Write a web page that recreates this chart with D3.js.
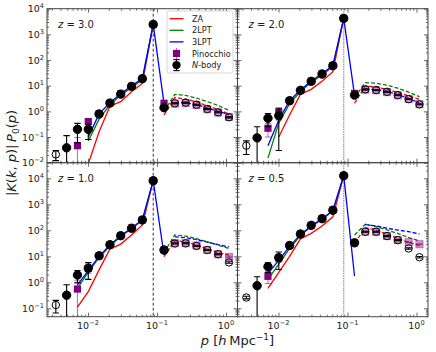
<!DOCTYPE html>
<html>
<head>
<meta charset="utf-8">
<script src="https://cdn.jsdelivr.net/npm/d3@7"></script>
<style>
body { margin: 0; background: #fff; }
svg text { font-family: "DejaVu Sans", sans-serif; fill: #1a1a1a; }
</style>
</head>
<body>
<svg id="fig" width="436" height="352"></svg>
<script>
// p bins (h/Mpc), k is the diagonal bin
const pBins = [0.00342, 0.0049, 0.00704, 0.0101, 0.01449, 0.0208, 0.0298, 0.0428, 0.0614, 0.0882,
               0.1265, 0.1815, 0.2605, 0.374, 0.536, 0.770, 1.105]
const kDiag = 0.0882
const zLabels = ["3.0", "2.0", "1.0", "0.5"]
const modelNames = ["ZA", "2LPT", "3LPT"]
const modelColors = ["#ff0000", "#008000", "#0000ff"]

// signed values: negative -> open markers / dashed lines, |value| plotted
const nbodyZ30 = [-0.021, 0.038, 0.2, 0.2, 0.79, 2.1, 4.7, 9.4, 18.7, 2440, 1.39, -2.07, -2.2, -1.82, -1.24, -0.92, -0.59]
const nbodyErrZ30 = [0.009, 0.075, 0.14, 0.12, 0.05, 0.1, 0.2, 0.4, 0.8, 80, 0.1, 0.1, 0.1, 0.08, 0.05, 0.04, 0.03]
const pinoZ30 = [null, null, 0.046, 0.4, 0.8, 2.1, 4.8, 9.5, 19, 2440, 2.07, -2.0, -2.1, -1.75, -1.2, -0.9, -0.6]
const pinoErrZ30 = [null, null, 0.05, 0.08, 0.05, 0.1, 0.2, 0.4, 0.8, 80, 0.1, 0.1, 0.1, 0.08, 0.06, 0.04, 0.03]
const zaZ30 = [null, null, null, 0.009, 0.16, 1.6, 2.4, 5.8, 12.3, 2440, -0.72, -3.5, -2.95, -2.4, -1.6, -1.2, -0.79]
const lpt2Z30 = [null, null, null, 0.07, 0.5, 1.8, 4.2, 8.5, 17, 2440, -1.0, -4.6, -4.2, -3.3, -2.4, -1.7, -1.1]
const lpt3Z30 = [null, null, null, 0.1, 0.8, 2.15, 4.9, 9.7, 19.5, 2440, 2.0, -2.1, -2.15, -1.85, -1.35, -1.0, -0.75]

const nbodyZ20 = [-0.046, 0.093, 0.54, 0.68, 2.6, 6.6, 14.8, 28.5, 60, 4200, 4.3, -7.2, -6.8, -5.8, -4.3, -3.0, -1.87]
const nbodyErrZ20 = [0.025, 0.16, 0.29, 0.65, 0.15, 0.3, 0.6, 1.0, 2, 100, 0.3, 0.3, 0.3, 0.2, 0.15, 0.1, 0.07]
const pinoZ20 = [null, null, 0.22, 0.91, 2.6, 6.6, 15, 29, 61, 4200, 5.0, -7.0, -6.6, -5.6, -4.2, -3.0, -1.9]
const pinoErrZ20 = [null, null, 0.12, 0.45, 0.15, 0.3, 0.6, 1, 2, 100, 0.3, 0.3, 0.3, 0.25, 0.2, 0.15, 0.1]
const zaZ20 = [null, null, null, 0.1, 0.72, 4.6, 7.2, 15, 35, 4200, -2.07, -9.8, -8.8, -7.2, -5.4, -4.0, -2.95]
const lpt2Z20 = [null, null, 0.015, 0.35, 2.0, 5.8, 13.5, 26, 55, 4200, -3.5, -13.2, -12.5, -10.5, -8, -5.6, -3.7]
const lpt3Z20 = [null, null, 0.046, 0.46, 2.6, 6.8, 15.2, 29, 62, 4200, 4.3, -7.4, -7.0, -6.0, -4.5, -3.2, -2.1]

const nbodyZ10 = [-0.134, 0.32, 1.9, 3.5, 10.5, 28, 62, 120, 250, 8100, 17.5, -31, -31.5, -25, -17.5, -12, -5.8]
const nbodyErrZ10 = [0.068, 0.48, 0.95, 2.2, 0.6, 1.5, 3, 5, 10, 200, 1, 1.2, 1.2, 1, 0.8, 0.6, 0.4]
const pinoZ10 = [null, null, 0.55, 3.4, 10.5, 28, 62, 122, 255, 8100, 17.5, -32, -32, -26, -17.5, -12, -9.5]
const pinoErrZ10 = [null, null, 0.6, 1.2, 0.6, 1.5, 3, 5, 10, 200, 1, 1.5, 1.5, 1.2, 1, 0.7, 0.5]
const zaZ10 = [null, null, 0.11, 0.44, 3.0, 19, 29.5, 66, 160, 8100, -9.6, -40, -36, -27, -18.6, -13.8, -11]
const lpt2Z10 = [null, null, 0.6, 2.4, 9, 25, 58, 115, 240, 8100, -14, -66, -60, -48, -36, -27, -20]
const lpt3Z10 = [null, null, 0.8, 2.8, 10, 27, 62, 122, 255, 8100, 11, -56, -52, -44, -35, -28, -23]

const nbodyZ05 = [-0.26, 0.74, 4.0, 8.9, 26, 72, 155, 280, 590, 12600, 33, -88, -88, -60, -42, -20, -9.2]
const nbodyErrZ05 = [0.03, 0.9, 1.6, 5.8, 1.5, 4, 8, 14, 30, 400, 2, 4, 4, 3, 2, 1.2, 0.6]
const pinoZ05 = [null, null, 1.7, 8.5, 26, 72, 155, 285, 600, 12600, 33, -88, -88, -60, -42, -35, -29]
const pinoErrZ05 = [null, null, 0.8, 2.5, 1.5, 4, 8, 14, 30, 400, 2, 4, 4, 3, 2, 1.5, 1.2]
const zaZ05 = [null, null, 0.59, 2.4, 10, 47, 76, 147, 330, 12600, -32, -126, -102, -70, -49, -34, -26]
const lpt2Z05 = [null, null, 1.3, 5, 20, 62, 140, 260, 560, 12600, -66, -170, -140, -103, -76, -52, -39]
const lpt3Z05 = [null, null, 2.2, 7, 24, 68, 150, 275, 580, 12600, 1.74, -165, -147, -120, -102, -89, -72]

const svg = d3.select("#fig")
const W = 190.5, H = 154
const xDomain = [Math.pow(10, -2.594), Math.pow(10, 0.167)]

const panels = [
    {x0: 47,    y0: 8.7,   z: zLabels[0], yDom: [1e-2, 1e4], left: true,  bottom: false,
     nb: nbodyZ30, nbErr: nbodyErrZ30, pi: pinoZ30, piErr: pinoErrZ30, models: [zaZ30, lpt2Z30, lpt3Z30]},
    {x0: 237.5, y0: 8.7,   z: zLabels[1], yDom: [1e-2, 1e4], left: false, bottom: false,
     nb: nbodyZ20, nbErr: nbodyErrZ20, pi: pinoZ20, piErr: pinoErrZ20, models: [zaZ20, lpt2Z20, lpt3Z20]},
    {x0: 47,    y0: 162.7, z: zLabels[2], yDom: [Math.pow(10, -1.323), Math.pow(10, 4.6)], left: true,  bottom: true,
     nb: nbodyZ10, nbErr: nbodyErrZ10, pi: pinoZ10, piErr: pinoErrZ10, models: [zaZ10, lpt2Z10, lpt3Z10]},
    {x0: 237.5, y0: 162.7, z: zLabels[3], yDom: [Math.pow(10, -1.323), Math.pow(10, 4.6)], left: false, bottom: true,
     nb: nbodyZ05, nbErr: nbodyErrZ05, pi: pinoZ05, piErr: pinoErrZ05, models: [zaZ05, lpt2Z05, lpt3Z05]}
]

const logTicks = (dom) => {
    const out = []
    for (let e = Math.floor(Math.log10(dom[0])); e <= Math.ceil(Math.log10(dom[1])); e++) {
        for (let m = 1; m < 10; m++) {
            const v = m * Math.pow(10, e)
            if (v >= dom[0] * 0.999 && v <= dom[1] * 1.001) out.push({v: v, major: m === 1, e: e})
        }
    }
    return out
}

const powLabel = (sel, e, fs) => {
    sel.append("tspan").text("10")
    sel.append("tspan").attr("dy", -fs * 0.42).attr("font-size", fs * 0.7)
        .text(e < 0 ? "\u2212" + (-e) : e)
}

panels.forEach((P, pi) => {
    const x = d3.scaleLog().domain(xDomain).range([P.x0, P.x0 + W])
    const y = d3.scaleLog().domain(P.yDom).range([P.y0 + H, P.y0])
    const g = svg.append("g")

    g.append("clipPath").attr("id", "clip" + pi)
        .append("rect").attr("x", P.x0).attr("y", P.y0).attr("width", W).attr("height", H)
    const body = g.append("g").attr("clip-path", `url(#clip${pi})`)

    // diagonal bin marker
    body.append("line")
        .attr("x1", x(kDiag)).attr("x2", x(kDiag)).attr("y1", P.y0).attr("y2", P.y0 + H)
        .attr("stroke", P.left ? "#000" : "#999")
        .attr("stroke-width", P.left ? 0.8 : 1.3)
        .attr("stroke-dasharray", P.left ? "3,2" : "1.5,1")

    // model lines: solid where positive, dashed where negative
    P.models.forEach((vals, mi) => {
        const pts = pBins.map((p, i) => ({p: p, v: vals[i]}))
        const line = (sign) => d3.line()
            .defined(d => d.v !== null && d.v * sign > 0)
            .x(d => x(d.p)).y(d => y(Math.abs(d.v)))
        body.append("path").attr("d", line(1)(pts))
            .attr("fill", "none").attr("stroke", modelColors[mi]).attr("stroke-width", 1.3)
        body.append("path").attr("d", line(-1)(pts))
            .attr("fill", "none").attr("stroke", modelColors[mi]).attr("stroke-width", 1.3)
            .attr("stroke-dasharray", "4,2")
    })

    const errBars = (vals, errs, color, opacity) => {
        pBins.forEach((p, i) => {
            if (vals[i] === null || errs[i] === null) return
            const a = Math.abs(vals[i])
            const top = a + errs[i]
            const low = a - errs[i]
            const yLow = low > 0 ? y(low) : P.y0 + H + 10
            const gx = x(p)
            body.append("line").attr("x1", gx).attr("x2", gx).attr("y1", y(top)).attr("y2", yLow)
                .attr("stroke", color).attr("stroke-opacity", opacity).attr("stroke-width", 1.1)
            body.append("line").attr("x1", gx - 3.2).attr("x2", gx + 3.2).attr("y1", y(top)).attr("y2", y(top))
                .attr("stroke", color).attr("stroke-opacity", opacity).attr("stroke-width", 1.1)
            if (low > 0) {
                body.append("line").attr("x1", gx - 3.2).attr("x2", gx + 3.2).attr("y1", yLow).attr("y2", yLow)
                    .attr("stroke", color).attr("stroke-opacity", opacity).attr("stroke-width", 1.1)
            }
        })
    }

    // Pinocchio
    errBars(P.pi, P.piErr, "#800080", 0.55)
    body.selectAll(null)
        .data(pBins.map((p, i) => ({p: p, v: P.pi[i]})).filter(d => d.v !== null))
        .enter().append("rect")
            .attr("x", d => x(d.p) - 3.6).attr("y", d => y(Math.abs(d.v)) - 3.6)
            .attr("width", 7.2).attr("height", 7.2)
            .attr("fill", "#800080")
            .attr("fill-opacity", d => d.v > 0 ? 1 : 0.4)
            .attr("stroke", "#800080").attr("stroke-opacity", d => d.v > 0 ? 0 : 0.5).attr("stroke-width", 0.8)

    // N-body
    errBars(P.nb, P.nbErr, "#000", 1)
    body.selectAll(null)
        .data(pBins.map((p, i) => ({p: p, v: P.nb[i]})))
        .enter().append("circle")
            .attr("cx", d => x(d.p)).attr("cy", d => y(Math.abs(d.v)))
            .attr("r", d => d.v > 0 ? 4.2 : 3.7)
            .attr("fill", d => d.v > 0 ? "#000" : "none")
            .attr("stroke", "#000").attr("stroke-width", 1)

    // frame
    g.append("rect").attr("x", P.x0).attr("y", P.y0).attr("width", W).attr("height", H)
        .attr("fill", "none").attr("stroke", "#444").attr("stroke-width", 1)

    // inward ticks on all sides
    const xt = logTicks(x.domain()), yt = logTicks(y.domain())
    const sides = [
        [d3.axisBottom(x), `translate(0,${P.y0 + H})`, xt],
        [d3.axisTop(x), `translate(0,${P.y0})`, xt],
        [d3.axisLeft(y), `translate(${P.x0},0)`, yt],
        [d3.axisRight(y), `translate(${P.x0 + W},0)`, yt]
    ]
    sides.forEach(([ax, tr, tk]) => {
        [true, false].forEach(maj => {
            ax.tickValues(tk.filter(t => t.major === maj).map(t => t.v))
                .tickSize(maj ? -4 : -2).tickFormat("")
            const a = g.append("g").attr("transform", tr).call(ax)
            a.select(".domain").remove()
            a.selectAll("line").attr("stroke", "#444").attr("stroke-width", 0.8)
        })
    })

    if (P.left) {
        yt.filter(t => t.major).forEach(t => {
            const tx = g.append("text").attr("x", P.x0 - 3).attr("y", y(t.v) + 3.5)
                .attr("text-anchor", "end").attr("font-size", 9.5)
            powLabel(tx, t.e, 9.5)
        })
    }
    if (P.bottom) {
        xt.filter(t => t.major).forEach(t => {
            const tx = g.append("text").attr("x", x(t.v)).attr("y", P.y0 + H + 12)
                .attr("text-anchor", "middle").attr("font-size", 9.5)
            powLabel(tx, t.e, 9.5)
        })
    }

    // redshift label
    const zt = g.append("text").attr("x", P.x0 + 11).attr("y", P.y0 + 19).attr("font-size", 10)
    zt.append("tspan").attr("font-style", "italic").text("z")
    zt.append("tspan").text(" = " + P.z)
})

// legend (top-left panel)
const lg = svg.append("g")
lg.append("rect").attr("x", 167).attr("y", 11).attr("width", 66).attr("height", 62)
    .attr("rx", 2).attr("fill", "#fff").attr("fill-opacity", 0.85).attr("stroke", "#ccc").attr("stroke-width", 0.8)
const rowY = (i) => 18.7 + 11.6 * i
modelNames.forEach((name, i) => {
    lg.append("line").attr("x1", 169.5).attr("x2", 183.5).attr("y1", rowY(i)).attr("y2", rowY(i))
        .attr("stroke", modelColors[i]).attr("stroke-width", 1.3)
    lg.append("text").attr("x", 192).attr("y", rowY(i) + 3).attr("font-size", 8.2).text(name)
})
const lx = 176.5
lg.append("line").attr("x1", lx).attr("x2", lx).attr("y1", rowY(3) - 5.5).attr("y2", rowY(3) + 5.5)
    .attr("stroke", "#800080").attr("stroke-opacity", 0.55).attr("stroke-width", 1.1)
lg.append("rect").attr("x", lx - 3.6).attr("y", rowY(3) - 3.6).attr("width", 7.2).attr("height", 7.2).attr("fill", "#800080")
lg.append("text").attr("x", 192).attr("y", rowY(3) + 3).attr("font-size", 8.2).text("Pinocchio")
lg.append("line").attr("x1", lx).attr("x2", lx).attr("y1", rowY(4) - 5.5).attr("y2", rowY(4) + 5.5)
    .attr("stroke", "#000").attr("stroke-width", 1.1)
;[-5.5, 5.5].forEach(o => lg.append("line").attr("x1", lx - 3.2).attr("x2", lx + 3.2)
    .attr("y1", rowY(4) + o).attr("y2", rowY(4) + o).attr("stroke", "#000").attr("stroke-width", 1.1))
lg.append("circle").attr("cx", lx).attr("cy", rowY(4)).attr("r", 4.2).attr("fill", "#000")
const nbt = lg.append("text").attr("x", 192).attr("y", rowY(4) + 3).attr("font-size", 8.2)
nbt.append("tspan").attr("font-style", "italic").text("N")
nbt.append("tspan").text("-body")

// axis labels
const xl = svg.append("text").attr("x", 237.5).attr("y", 345).attr("text-anchor", "middle").attr("font-size", 13)
xl.append("tspan").attr("font-style", "italic").text("p")
xl.append("tspan").text(" [")
xl.append("tspan").attr("font-style", "italic").text("h")
xl.append("tspan").text("\u2009Mpc")
xl.append("tspan").attr("dy", -5).attr("font-size", 9).text("\u22121")
xl.append("tspan").attr("dy", 5).text("]")

const yl = svg.append("text").attr("transform", "translate(16,153) rotate(-90)")
    .attr("text-anchor", "middle").attr("font-size", 13)
yl.append("tspan").text("|")
yl.append("tspan").attr("font-style", "italic").text("K")
yl.append("tspan").text("(")
yl.append("tspan").attr("font-style", "italic").text("k")
yl.append("tspan").text(", ")
yl.append("tspan").attr("font-style", "italic").text("p")
yl.append("tspan").text(")|\u2009")
yl.append("tspan").attr("font-style", "italic").text("P")
yl.append("tspan").attr("dy", 3).attr("font-size", 9).text("0")
yl.append("tspan").attr("dy", -3).text("(")
yl.append("tspan").attr("font-style", "italic").text("p")
yl.append("tspan").text(")")
</script>
</body>
</html>
